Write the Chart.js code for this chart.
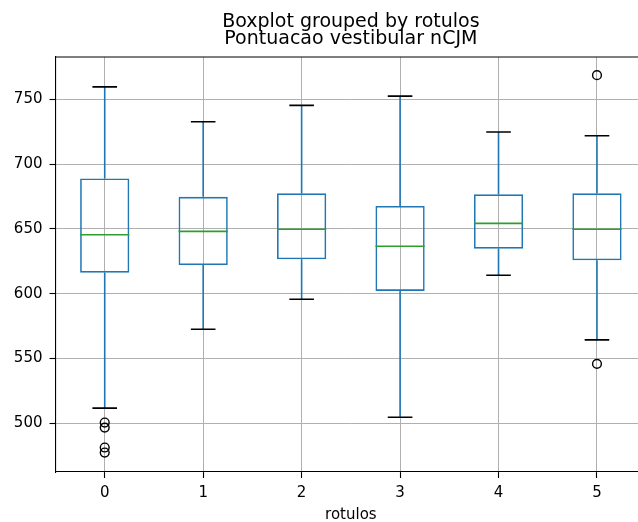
<!DOCTYPE html>
<html>
<head>
<meta charset="utf-8">
<script src="https://cdn.jsdelivr.net/npm/chart.js@4"></script>
<style>
  html, body { margin: 0; padding: 0; background: #fff; }
  #wrap { width: 638px; height: 522px; overflow: hidden; position: relative; }
  canvas { display: block; }
</style>
</head>
<body>
<div id="wrap"><canvas id="c" width="652" height="522"></canvas></div>
<script>
// ---- data ----
const categories   = ['0', '1', '2', '3', '4', '5'];
const q1Values     = [616.2, 622.1, 626.5, 602.1, 634.7, 625.8];
const medianValues = [645.5, 648.1, 649.7, 636.6, 654.3, 649.7];
const q3Values     = [689.0, 674.8, 677.5, 667.7, 676.7, 677.5];
const whiskerLow   = [511.6, 572.5, 595.7, 504.6, 614.2, 564.3];
const whiskerHigh  = [759.7, 732.7, 745.4, 752.5, 724.8, 721.9];
const outlierGroup = ['0', '0', '0', '0', '5', '5'];
const outlierValue = [500.5, 496.6, 481.2, 477.3, 768.7, 545.8];
const yTickValues  = [500, 550, 600, 650, 700, 750];
const yLimits      = [462.3, 782.7];

const FONT = "'DejaVu Sans', sans-serif";
const BOX_COLOR = '#1f77b4';
const MEDIAN_COLOR = '#2ca02c';
const LW = 1.6;

const boxplotExtras = {
  id: 'boxplotExtras',
  afterDatasetsDraw(chart) {
    const ctx = chart.ctx;
    const xs = chart.scales.x, ys = chart.scales.y;
    const catW = xs.width / categories.length;
    const boxHalf = catW * 0.25;
    const capHalf = catW * 0.125;
    ctx.save();
    ctx.lineCap = 'butt';
    categories.forEach((c, i) => {
      const x = xs.getPixelForValue(i);
      const yq1 = ys.getPixelForValue(q1Values[i]);
      const yq3 = ys.getPixelForValue(q3Values[i]);
      const ylo = ys.getPixelForValue(whiskerLow[i]);
      const yhi = ys.getPixelForValue(whiskerHigh[i]);
      const ymed = ys.getPixelForValue(medianValues[i]);
      ctx.lineWidth = LW;
      // whiskers
      ctx.strokeStyle = BOX_COLOR;
      ctx.beginPath();
      ctx.moveTo(x, yq3); ctx.lineTo(x, yhi);
      ctx.moveTo(x, yq1); ctx.lineTo(x, ylo);
      ctx.stroke();
      // caps
      ctx.strokeStyle = '#000';
      ctx.beginPath();
      ctx.moveTo(x - capHalf, yhi); ctx.lineTo(x + capHalf, yhi);
      ctx.moveTo(x - capHalf, ylo); ctx.lineTo(x + capHalf, ylo);
      ctx.stroke();
      // median
      ctx.strokeStyle = MEDIAN_COLOR;
      ctx.beginPath();
      ctx.moveTo(x - boxHalf, ymed); ctx.lineTo(x + boxHalf, ymed);
      ctx.stroke();
    });
    ctx.restore();
  },
  afterDraw(chart) {
    const ctx = chart.ctx, a = chart.chartArea;
    ctx.save();
    ctx.strokeStyle = '#000';
    ctx.lineWidth = 1.1;
    ctx.beginPath();
    ctx.moveTo(a.left, a.top); ctx.lineTo(a.right, a.top);
    ctx.stroke();
    ctx.restore();
  }
};

new Chart(document.getElementById('c'), {
  type: 'bar',
  data: {
    labels: categories,
    datasets: [
      {
        type: 'bar',
        data: categories.map((c, i) => [q1Values[i], q3Values[i]]),
        backgroundColor: 'rgba(0,0,0,0)',
        borderColor: BOX_COLOR,
        borderWidth: LW,
        borderSkipped: false,
        categoryPercentage: 1.0,
        barPercentage: 0.5,
        grouped: false,
        order: 2
      },
      {
        type: 'line',
        data: outlierGroup.map((g, i) => ({ x: g, y: outlierValue[i] })),
        showLine: false,
        pointStyle: 'circle',
        pointRadius: 4.4,
        pointBorderWidth: 1.4,
        pointBorderColor: '#000',
        pointBackgroundColor: 'rgba(0,0,0,0)',
        order: 1
      }
    ]
  },
  options: {
    responsive: false,
    animation: false,
    events: [],
    layout: { padding: 0 },
    plugins: {
      legend: { display: false },
      tooltip: { enabled: false },
      title: {
        display: true,
        text: 'Boxplot grouped by rotulos',
        color: '#000',
        fullSize: false,
        font: { family: FONT, size: 19, weight: 'normal', lineHeight: 0.88 },
        padding: { top: 13.5, bottom: 0 }
      },
      subtitle: {
        display: true,
        text: 'Pontuacao vestibular nCJM',
        color: '#000',
        fullSize: false,
        font: { family: FONT, size: 19, weight: 'normal', lineHeight: 0.88 },
        padding: { top: 0, bottom: 10.1 }
      }
    },
    scales: {
      x: {
        type: 'category',
        offset: true,
        grid: {
          offset: false,
          color: '#b0b0b0',
          lineWidth: 1,
          drawTicks: true,
          tickLength: 6,
          tickColor: '#000',
          tickWidth: 1.1
        },
        border: { display: true, color: '#000', width: 1.1 },
        ticks: { color: '#000', font: { family: FONT, size: 15 }, padding: 6, maxRotation: 0 },
        title: { display: true, text: 'rotulos', color: '#000', font: { family: FONT, size: 15, lineHeight: 0.9 }, padding: { top: 2, bottom: 0 } },
        afterFit(scale) { scale.height = 50; }
      },
      y: {
        type: 'linear',
        min: yLimits[0],
        max: yLimits[1],
        afterBuildTicks(scale) { scale.ticks = yTickValues.map(v => ({ value: v })); },
        grid: {
          color: '#b0b0b0',
          lineWidth: 1,
          drawTicks: true,
          tickLength: 6,
          tickColor: '#000',
          tickWidth: 1.1
        },
        border: { display: true, color: '#000', width: 1.1 },
        ticks: { color: '#000', font: { family: FONT, size: 15 }, padding: 7 },
        afterFit(scale) { scale.width = 55.5; }
      }
    }
  },
  plugins: [boxplotExtras]
});
</script>
</body>
</html>
